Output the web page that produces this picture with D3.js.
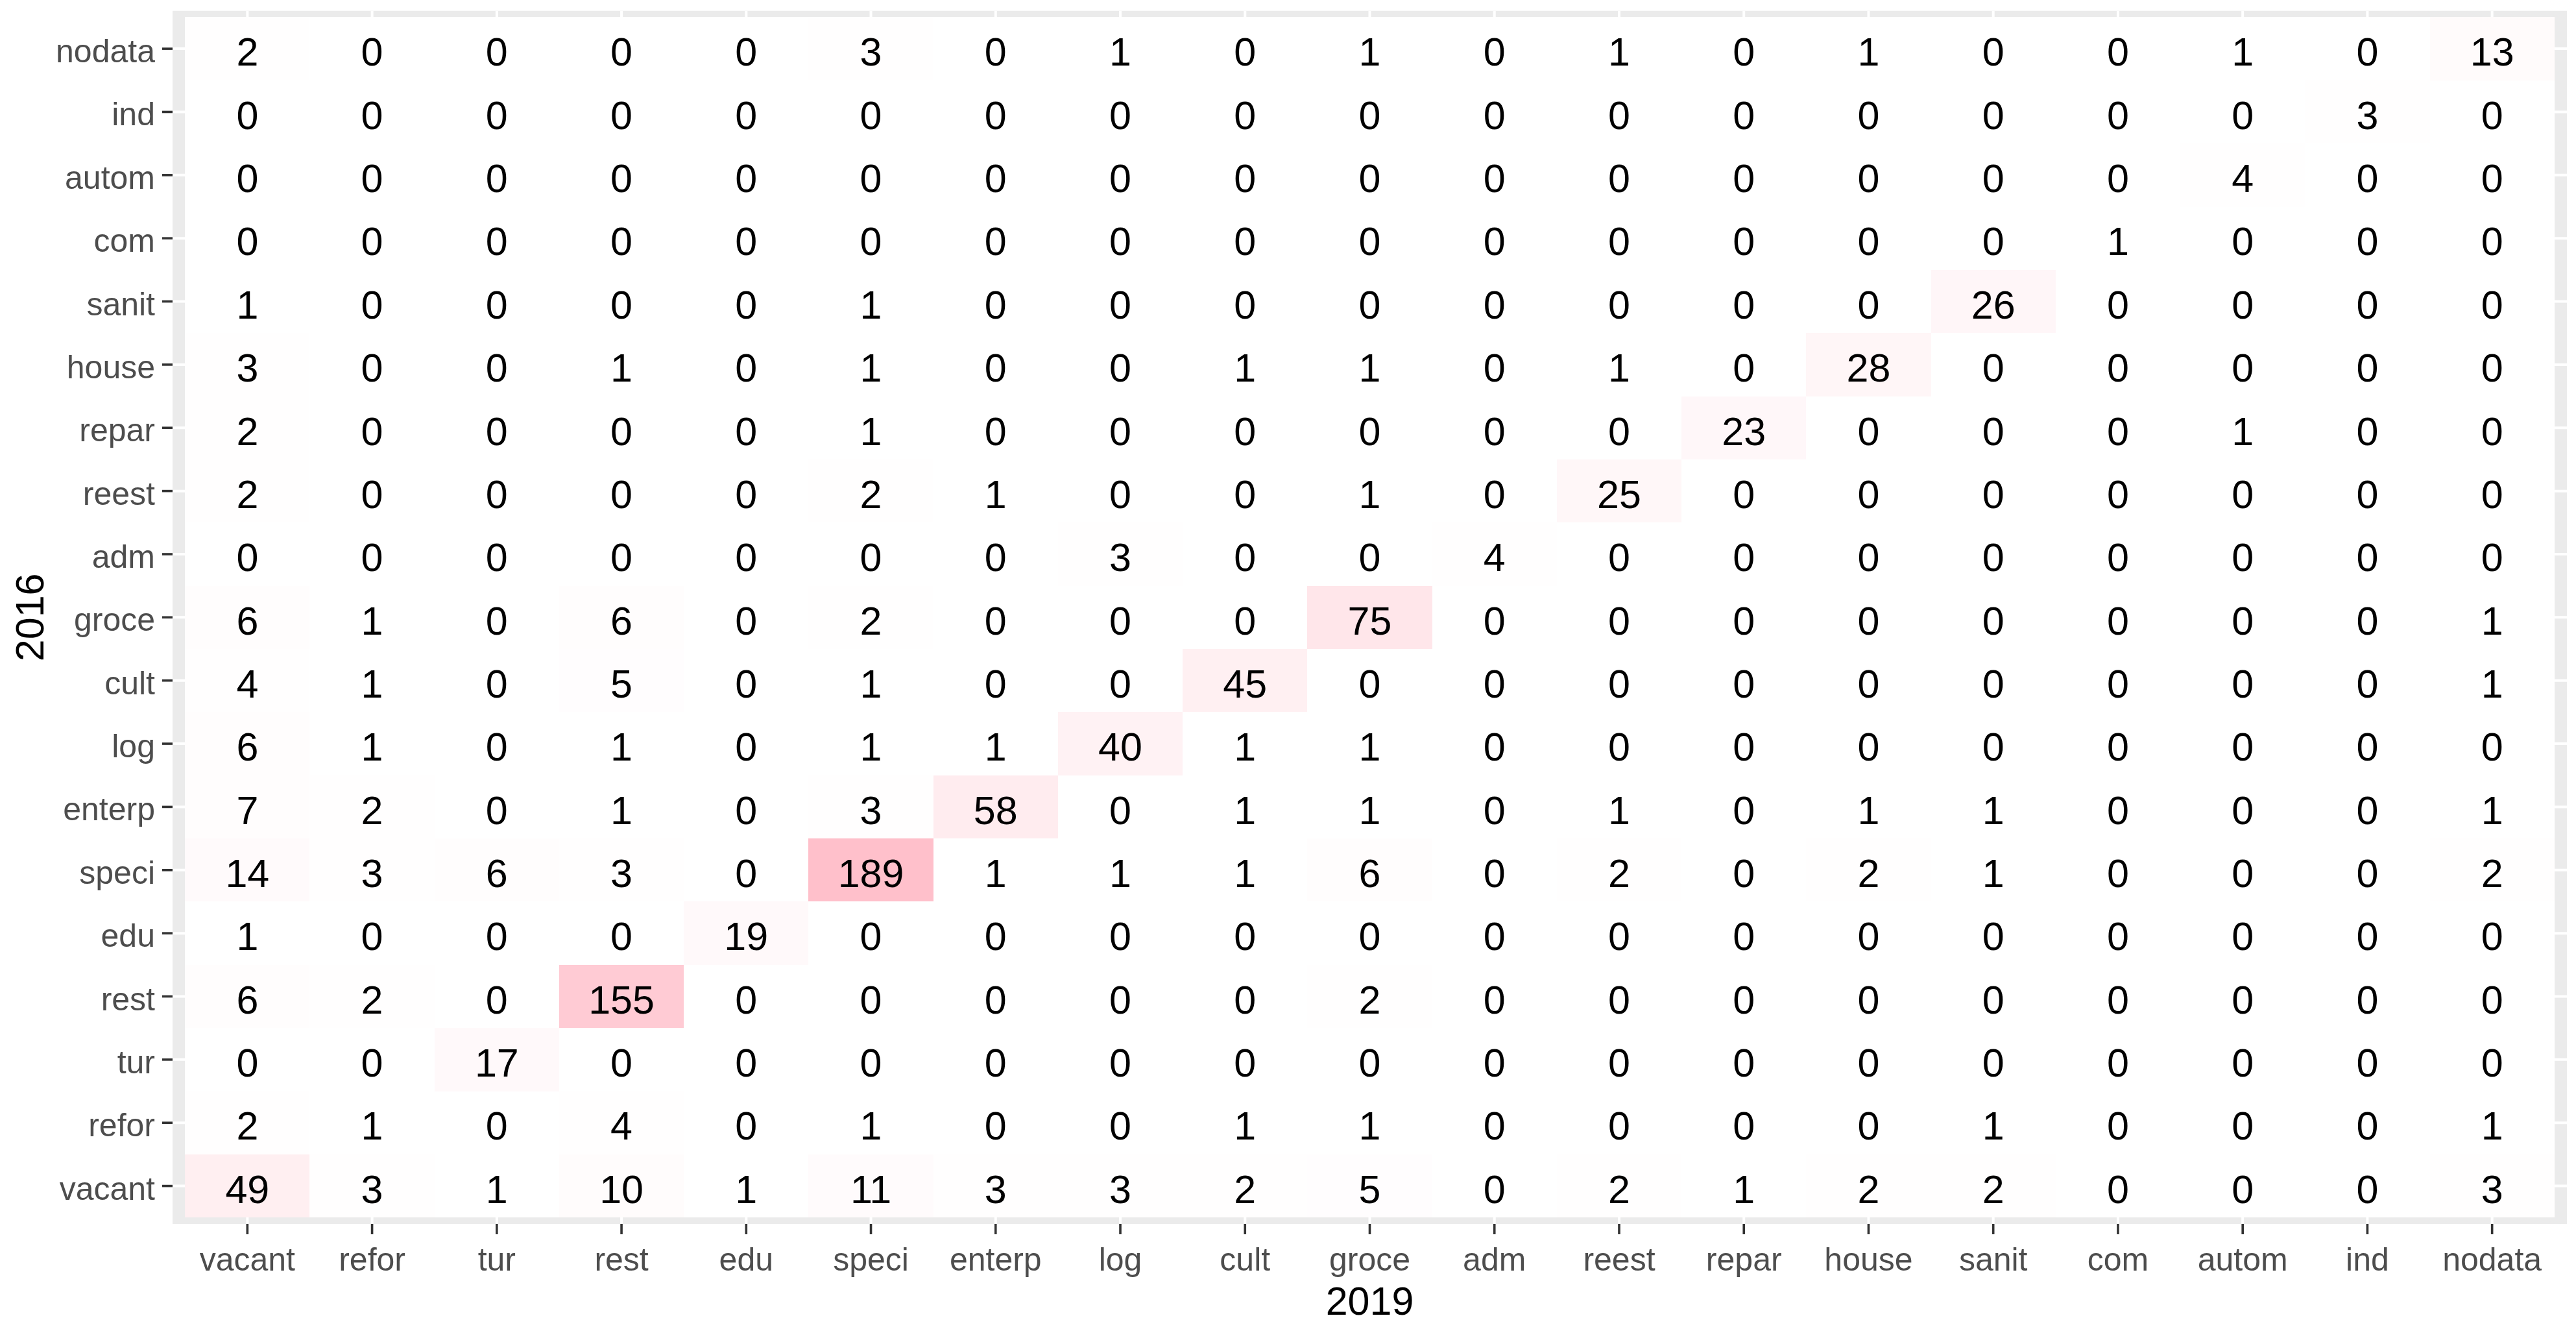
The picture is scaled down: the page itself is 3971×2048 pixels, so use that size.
<!DOCTYPE html>
<html>
<head>
<meta charset="utf-8">
<script src="https://cdn.jsdelivr.net/npm/d3@7"></script>
<style>
html,body{margin:0;padding:0;background:#fff;}
text{font-family:"Liberation Sans",Arial,sans-serif;}
</style>
</head>
<body>
<svg id="chart" width="3971" height="2048"></svg>
<script>
// Categories (same order on both axes; y runs bottom-to-top)
const categories = ["vacant","refor","tur","rest","edu","speci","enterp","log","cult","groce","adm","reest","repar","house","sanit","com","autom","ind","nodata"];

// Counts per 2016 category (row), across 2019 categories (columns in `categories` order)
const row_vacant = [49,3,1,10,1,11,3,3,2,5,0,2,1,2,2,0,0,0,3];
const row_refor  = [2,1,0,4,0,1,0,0,1,1,0,0,0,0,1,0,0,0,1];
const row_tur    = [0,0,17,0,0,0,0,0,0,0,0,0,0,0,0,0,0,0,0];
const row_rest   = [6,2,0,155,0,0,0,0,0,2,0,0,0,0,0,0,0,0,0];
const row_edu    = [1,0,0,0,19,0,0,0,0,0,0,0,0,0,0,0,0,0,0];
const row_speci  = [14,3,6,3,0,189,1,1,1,6,0,2,0,2,1,0,0,0,2];
const row_enterp = [7,2,0,1,0,3,58,0,1,1,0,1,0,1,1,0,0,0,1];
const row_log    = [6,1,0,1,0,1,1,40,1,1,0,0,0,0,0,0,0,0,0];
const row_cult   = [4,1,0,5,0,1,0,0,45,0,0,0,0,0,0,0,0,0,1];
const row_groce  = [6,1,0,6,0,2,0,0,0,75,0,0,0,0,0,0,0,0,1];
const row_adm    = [0,0,0,0,0,0,0,3,0,0,4,0,0,0,0,0,0,0,0];
const row_reest  = [2,0,0,0,0,2,1,0,0,1,0,25,0,0,0,0,0,0,0];
const row_repar  = [2,0,0,0,0,1,0,0,0,0,0,0,23,0,0,0,1,0,0];
const row_house  = [3,0,0,1,0,1,0,0,1,1,0,1,0,28,0,0,0,0,0];
const row_sanit  = [1,0,0,0,0,1,0,0,0,0,0,0,0,0,26,0,0,0,0];
const row_com    = [0,0,0,0,0,0,0,0,0,0,0,0,0,0,0,1,0,0,0];
const row_autom  = [0,0,0,0,0,0,0,0,0,0,0,0,0,0,0,0,4,0,0];
const row_ind    = [0,0,0,0,0,0,0,0,0,0,0,0,0,0,0,0,0,3,0];
const row_nodata = [2,0,0,0,0,3,0,1,0,1,0,1,0,1,0,0,1,0,13];

const xTitle = "2019";
const yTitle = "2016";

const rows = [row_vacant,row_refor,row_tur,row_rest,row_edu,row_speci,row_enterp,row_log,row_cult,row_groce,row_adm,row_reest,row_repar,row_house,row_sanit,row_com,row_autom,row_ind,row_nodata];

const cells = [];
rows.forEach((r, i) => r.forEach((v, j) => cells.push({y: categories[i], x: categories[j], v})));

// Layout
const P = {left: 266, right: 3957, top: 16.7, bottom: 1886};

const x = d3.scaleBand().domain(categories).range([P.left, P.right]).paddingInner(0).paddingOuter(0.1);
const y = d3.scaleBand().domain(categories).range([P.bottom, P.top]).paddingInner(0).paddingOuter(0.1);
const maxV = d3.max(cells, d => d.v);
const fill = d3.scaleLinear().domain([0, maxV]).range(["white", "pink"]).interpolate(d3.interpolateLab);

const svg = d3.select("#chart");

// panel background
svg.append("rect").attr("x", P.left).attr("y", P.top)
  .attr("width", P.right - P.left).attr("height", P.bottom - P.top).attr("fill", "#EBEBEB");

// gridlines
const grid = svg.append("g");
grid.selectAll("line.vx").data(categories).join("line")
  .attr("x1", d => x(d) + x.bandwidth()/2).attr("x2", d => x(d) + x.bandwidth()/2)
  .attr("y1", P.top).attr("y2", P.bottom).attr("stroke", "#fff").attr("stroke-width", 4);
grid.selectAll("line.hy").data(categories).join("line")
  .attr("y1", d => y(d) + y.bandwidth()/2).attr("y2", d => y(d) + y.bandwidth()/2)
  .attr("x1", P.left).attr("x2", P.right).attr("stroke", "#fff").attr("stroke-width", 4);

// tiles
svg.append("g").selectAll("rect").data(cells).join("rect")
  .attr("x", d => x(d.x)).attr("y", d => y(d.y))
  .attr("width", x.bandwidth()).attr("height", y.bandwidth())
  .attr("fill", d => fill(d.v)).attr("shape-rendering", "crispEdges");

// labels
svg.append("g").selectAll("text").data(cells).join("text")
  .attr("x", d => x(d.x) + x.bandwidth()/2)
  .attr("y", d => y(d.y) + y.bandwidth()/2)
  .attr("dy", "0.43em")
  .attr("text-anchor", "middle")
  .attr("font-size", 61).attr("fill", "#000")
  .text(d => d.v);

// axes
const xAxis = d3.axisBottom(x).tickSizeOuter(0).tickSizeInner(16).tickPadding(0);
const gx = svg.append("g").attr("transform", `translate(0,${P.bottom})`).call(xAxis);
gx.select(".domain").remove();
gx.selectAll(".tick line").attr("stroke", "#333333").attr("stroke-width", 3.6);
gx.selectAll(".tick text").attr("font-size", 50).attr("fill", "#4D4D4D")
  .attr("font-family", '"Liberation Sans",Arial,sans-serif')
  .attr("dy", null).attr("y", 72);

const yAxis = d3.axisLeft(y).tickSizeOuter(0).tickSizeInner(16).tickPadding(11);
const gy = svg.append("g").attr("transform", `translate(${P.left},0)`).call(yAxis);
gy.select(".domain").remove();
gy.selectAll(".tick line").attr("stroke", "#333333").attr("stroke-width", 3.6);
gy.selectAll(".tick text").attr("font-size", 50).attr("fill", "#4D4D4D")
  .attr("font-family", '"Liberation Sans",Arial,sans-serif')
  .attr("dy", "0.42em");

// axis titles
svg.append("text").attr("x", (P.left + P.right)/2).attr("y", 2026)
  .attr("text-anchor", "middle").attr("font-size", 61).attr("fill", "#000").text(xTitle);
svg.append("text").attr("transform", `translate(67,${(P.top + P.bottom)/2}) rotate(-90)`)
  .attr("text-anchor", "middle").attr("font-size", 61).attr("fill", "#000").text(yTitle);
</script>
</body>
</html>
